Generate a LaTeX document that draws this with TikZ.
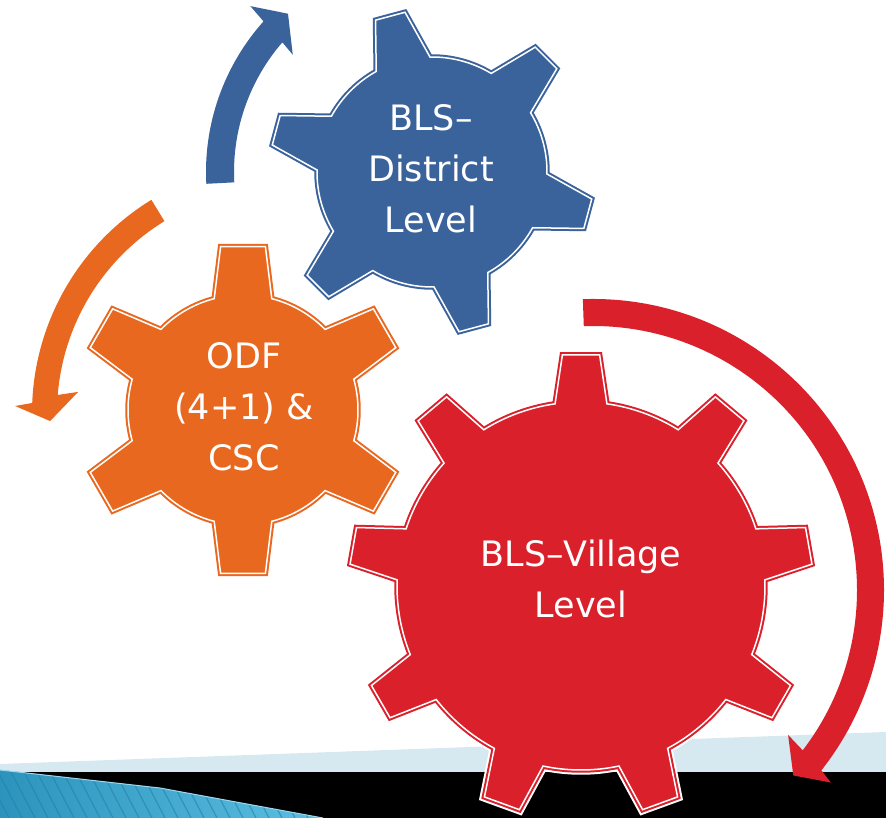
\documentclass[tikz,border=0pt]{standalone}
\usepackage{fontspec}
\setmainfont{DejaVu Sans}
\definecolor{gearblue}{RGB}{58, 99, 156}
\definecolor{gearorange}{RGB}{233, 104, 32}
\definecolor{gearred}{RGB}{218, 32, 42}
\definecolor{band}{RGB}{214, 232, 240}
\definecolor{seaA}{RGB}{44, 148, 188}
\definecolor{seaB}{RGB}{92, 190, 226}
\definecolor{seastripe}{RGB}{36, 128, 166}

\tikzset{
  gear/.style={fill=#1, draw=#1, double=white, double distance=1.5pt, line width=2pt,
    line join=miter, preaction={draw=white, line width=9.5pt, line join=miter}},
  gearlabel/.style={text=white, align=center, inner sep=0pt, font=\fontsize{35}{51}\selectfont}
}

\begin{document}
\begin{tikzpicture}[x=1pt, y=1pt]
\useasboundingbox (0,0) rectangle (886,818);

% Floor strips
\fill[band] (0,54) -- (886,86) -- (886,46) -- (0,46) -- cycle;
\fill[black] (0,0) rectangle (886,46);
\fill[left color=seaA, right color=seaB] (0,48) -- (160,30) -- (323,0) -- (0,0) -- cycle;
\begin{scope}
  \clip (0,48) -- (160,30) -- (323,0) -- (0,0) -- cycle;
  \foreach \x in {-30,-17,...,330}
    \draw[seastripe, line width=1.2pt, opacity=0.6] (\x,50) -- (\x+26,0);
\end{scope}
\draw[seaB!60!white, line width=1pt] (0,48) -- (160,30) -- (323,0);

% Hubs of the gears and the arrows
\coordinate (bluehub) at (432,646);
\coordinate (orangehub) at (243,408);
\coordinate (redhub) at (581,232);
\coordinate (orangeturn) at (282,405);
\coordinate (redturn) at (593,228);

% Curved arrows
\fill[gearblue, shift={(bluehub)}] (183:226) arc[start angle=183, end angle=138.2, radius=226]
  -- (137.6:246) -- (132.3:214) -- (139.9:182) -- (139.1:198)
  arc[start angle=139.1, end angle=183, radius=198] -- cycle;
\fill[gearorange, shift={(orangeturn)}] (121.5:250) arc[start angle=121.5, end angle=177.7, radius=250]
  -- (178.5:267) -- (182:232) -- (174.1:205) -- (175.4:225)
  arc[start angle=175.4, end angle=121.5, radius=225] -- cycle;
\fill[gearred, shift={(redturn)}] (92:291) arc[start angle=92, end angle=-38.3, radius=291]
  -- (-39:306) -- (-42.8:273) -- (-36.6:243) -- (-37.4:264)
  arc[start angle=-37.4, end angle=92, radius=264] -- cycle;

% Gears: hub / teeth / first tooth angle / inner r / outer r / half base / half tip / colour
\foreach \hub/\n/\t/\ri/\ro/\hb/\ht/\col in {
    bluehub/6/45/115/162/14/5.4/gearblue,
    orangehub/6/90/115/165/14.5/7.8/gearorange,
    redhub/9/90/184/232/8.1/4.6/gearred}
  \draw[gear=\col, shift={(\hub)}] ({\t+360/\n-\hb}:\ri)
    foreach \i in {1,...,\n} {
      -- ({\t+\i*360/\n-\ht}:\ro) -- ({\t+\i*360/\n+\ht}:\ro) -- ({\t+\i*360/\n+\hb}:\ri)
      arc[start angle={\t+\i*360/\n+\hb}, end angle={\t+(\i+1)*360/\n-\hb}, radius=\ri]
    } -- cycle;

% Labels
\node[gearlabel] (district) at (431,649.5) {BLS–\\District\\Level};
\node[gearlabel] (odf) at (244,411) {ODF\\(4+1) \&\\CSC};
\node[gearlabel] (village) at (581,239) {BLS–Village\\Level};

\end{tikzpicture}
\end{document}
